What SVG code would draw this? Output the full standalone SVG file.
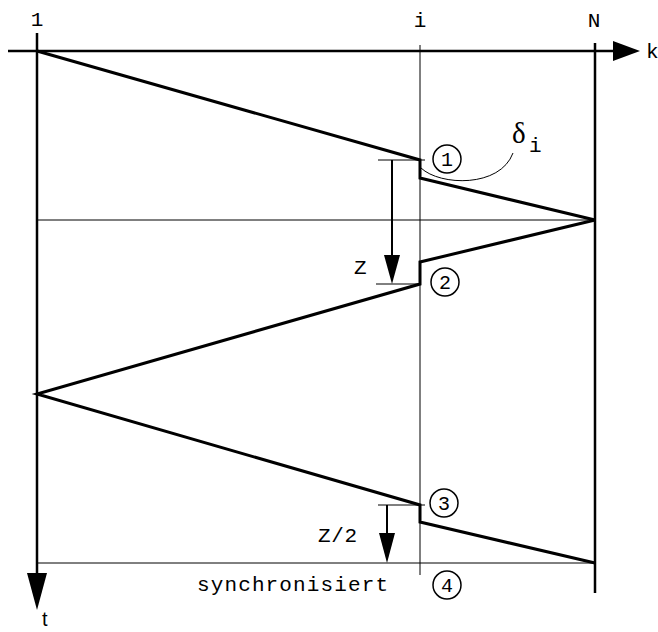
<svg xmlns="http://www.w3.org/2000/svg" width="658" height="632" viewBox="0 0 658 632">
<style>
.thick{stroke:#000;stroke-width:3;fill:none;stroke-linejoin:miter}
.thin{stroke:#000;stroke-width:1;fill:none}
.axis{stroke:#000;stroke-width:2.5;fill:none}
.mono{font-family:"Liberation Mono","Courier New",monospace;font-size:21px;fill:#000}
.circ{stroke:#000;stroke-width:1.5;fill:none}
.num{font-family:"Liberation Mono","Courier New",monospace;font-size:20px;fill:#000;text-anchor:middle}
</style>
<rect width="658" height="632" fill="#fff"/>
<g id="connectors">
  <line class="axis" x1="8" y1="51" x2="615" y2="51"/>
  <polygon points="613,41 640,51 613,61" fill="#000"/>
  <line class="axis" x1="37" y1="33" x2="37" y2="575"/>
  <polygon points="27,573 37,610 47,573" fill="#000"/>
  <line class="axis" x1="595" y1="43" x2="595" y2="593"/>
  <line class="thin" x1="420" y1="45" x2="420" y2="575"/>
  <line class="thin" x1="37" y1="220" x2="595" y2="220"/>
  <line class="thin" x1="37" y1="563" x2="595" y2="563"/>
  <polyline class="thick" points="37,51 420,160 420,178 595,220 420,262 420,284 37,394 420,505 420,522 595,563"/>
  <line class="thin" x1="378" y1="160" x2="425" y2="160"/>
  <line class="thin" x1="376" y1="284" x2="420" y2="284"/>
  <line x1="392" y1="160" x2="392" y2="257" stroke="#000" stroke-width="2"/>
  <polygon points="384,255 392,284 400,255" fill="#000"/>
  <line class="thin" x1="378" y1="505" x2="425" y2="505"/>
  <line x1="387" y1="505" x2="387" y2="535" stroke="#000" stroke-width="2"/>
  <polygon points="379,533 387,563 395,533" fill="#000"/>
  <path class="thin" d="M421,168 C440,186 500,188 513,153"/>
</g>
<g id="labels">
  <text class="mono" x="37" y="26" text-anchor="middle">1</text>
  <text class="mono" x="420" y="27" text-anchor="middle">i</text>
  <text class="mono" x="594" y="27" text-anchor="middle">N</text>
  <text class="mono" x="646" y="58">k</text>
  <text x="42" y="626" font-family="Liberation Sans,Arial,sans-serif" font-size="20">t</text>
  <text x="512" y="143" font-family="Liberation Serif,Times New Roman,serif" font-size="29">δ</text>
  <text class="mono" x="529" y="152">i</text>
  <text class="mono" x="354" y="274">Z</text>
  <text class="mono" x="318" y="542" textLength="39" lengthAdjust="spacing">Z/2</text>
  <text class="mono" x="197" y="591" textLength="191" lengthAdjust="spacing">synchronisiert</text>
</g>
<g id="node1"><circle class="circ" cx="447" cy="159" r="14"/><text class="num" x="447" y="166">1</text></g>
<g id="node2"><circle class="circ" cx="445" cy="282" r="14"/><text class="num" x="445" y="289">2</text></g>
<g id="node3"><circle class="circ" cx="444" cy="503" r="14"/><text class="num" x="444" y="510">3</text></g>
<g id="node4"><circle class="circ" cx="447" cy="585" r="14"/><text class="num" x="447" y="592">4</text></g>
</svg>
